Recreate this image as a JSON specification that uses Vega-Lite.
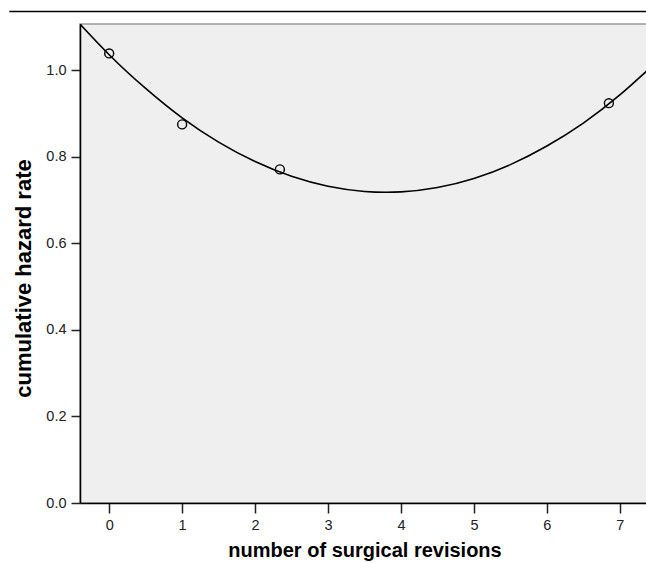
{
  "$schema": "https://vega.github.io/schema/vega-lite/v6.json",
  "autosize": "none",
  "width": 569,
  "height": 479,
  "padding": {"left": 80, "top": 24, "right": 0, "bottom": 60},
  "background": "white",
  "config": {
    "view": {"fill": "#efefef", "stroke": "#999999", "strokeWidth": 1.5},
    "font": "Liberation Sans",
    "axis": {
      "grid": false,
      "domainColor": "#000000",
      "domainWidth": 1.5,
      "tickColor": "#222222",
      "tickWidth": 1.5,
      "labelFont": "Liberation Sans",
      "labelFontSize": 14.5,
      "labelColor": "#222222",
      "titleFont": "Liberation Sans",
      "titleFontWeight": "bold",
      "titleColor": "#000000"
    }
  },
  "datasets": {
    "curve": [
      {"x": -0.5, "y": 1.125},
      {"x": 0, "y": 1.036},
      {"x": 0.5, "y": 0.958},
      {"x": 1, "y": 0.89},
      {"x": 1.5, "y": 0.834},
      {"x": 2, "y": 0.789},
      {"x": 2.5, "y": 0.755},
      {"x": 3, "y": 0.732},
      {"x": 3.5, "y": 0.72},
      {"x": 4, "y": 0.719},
      {"x": 4.5, "y": 0.729},
      {"x": 5, "y": 0.75},
      {"x": 5.5, "y": 0.782},
      {"x": 6, "y": 0.825},
      {"x": 6.5, "y": 0.878},
      {"x": 7, "y": 0.943},
      {"x": 7.5, "y": 1.019}
    ],
    "points": [
      {"x": 0, "y": 1.039},
      {"x": 1, "y": 0.875},
      {"x": 2.34, "y": 0.771},
      {"x": 6.85, "y": 0.924}
    ],
    "frame": [
      {"x": -1.37, "x2": 7.5, "y": 1.136}
    ]
  },
  "layer": [
    {
      "data": {"name": "curve"},
      "mark": {"type": "line", "color": "#000000", "strokeWidth": 1.6, "interpolate": "natural", "clip": true},
      "encoding": {
        "x": {
          "field": "x", "type": "quantitative",
          "scale": {"domain": [-0.4, 7.4], "nice": false, "zero": false},
          "axis": {
            "values": [0, 1, 2, 3, 4, 5, 6, 7],
            "format": "d",
            "title": "number of surgical revisions",
            "titleFontSize": 20,
            "tickSize": 10,
            "labelPadding": 5,
            "titlePadding": 9
          }
        },
        "y": {
          "field": "y", "type": "quantitative",
          "scale": {"domain": [0, 1.107], "nice": false},
          "axis": {
            "values": [0, 0.2, 0.4, 0.6, 0.8, 1.0],
            "format": ".1f",
            "title": "cumulative hazard rate",
            "titleFontSize": 22,
            "titleY": 254,
            "tickSize": 9,
            "labelPadding": 5,
            "titlePadding": 10
          }
        }
      }
    },
    {
      "data": {"name": "points"},
      "mark": {"type": "point", "shape": "circle", "filled": false, "color": "#000000", "strokeWidth": 1.4, "size": 80, "opacity": 1},
      "encoding": {
        "x": {"field": "x", "type": "quantitative"},
        "y": {"field": "y", "type": "quantitative"}
      }
    },
    {
      "data": {"name": "frame"},
      "mark": {"type": "rule", "color": "#000000", "strokeWidth": 1.5, "clip": false},
      "encoding": {
        "x": {"field": "x", "type": "quantitative"},
        "x2": {"field": "x2"},
        "y": {"field": "y", "type": "quantitative"}
      }
    }
  ]
}
